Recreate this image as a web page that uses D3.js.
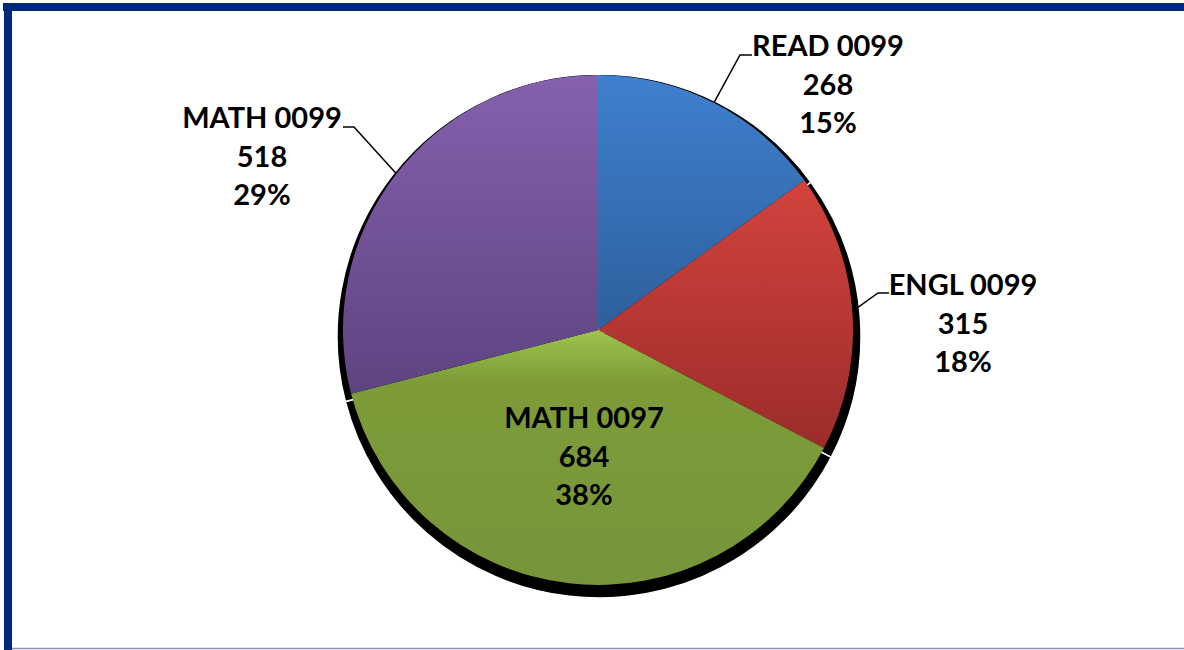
<!DOCTYPE html>
<html>
<head>
<meta charset="utf-8">
<script src="https://cdn.jsdelivr.net/npm/d3@7"></script>
<style>
  html, body { margin: 0; padding: 0; background: #fff; }
  svg { display: block; }
  .label { font-family: Lato, "Open Sans", sans-serif; font-weight: 700; fill: #000; }
</style>
</head>
<body>
<svg id="chart"></svg>
<script>
// data
const courses = ['READ 0099', 'ENGL 0099', 'MATH 0097', 'MATH 0099'];
const counts = [268, 315, 684, 518];

// slice colours (light end, dark end of each gradient)
const lightColors = ['#3F80CF', '#D3433D', '#9EC54F', '#8561AE'];
const darkColors = ['#2D5F9C', '#9B2C2A', '#76953A', '#5D4480'];

const width = 1184;
const height = 650;
const cx = 598;
const cy = 330;
const radius = 255;
const fontSize = 29;
const lineGap = 38.5;

// label layout: centre x, first line centre y, elbow of the leader line
const labelLayout = [
  { x: 828, y: 46, elbow: [[740, 55], [752, 55]] },
  { x: 963, y: 285, elbow: [[878, 293], [889, 293]] },
  { x: 584, y: 418, elbow: null },
  { x: 262, y: 118, elbow: [[354, 127], [343, 127]] },
];

const total = d3.sum(counts);
const data = courses.map((name, i) => ({ name, count: counts[i], index: i }));

const svg = d3.select('#chart')
  .attr('width', width)
  .attr('height', height);

// frame
svg.append('rect')
  .attr('x', 3).attr('y', 3)
  .attr('width', width - 3).attr('height', 8)
  .attr('fill', '#002A78');
svg.append('rect')
  .attr('x', 4).attr('y', 3)
  .attr('width', 8).attr('height', height - 3)
  .attr('fill', '#002A78');
svg.append('line')
  .attr('x1', 12).attr('x2', width)
  .attr('y1', 648.5).attr('y2', 648.5)
  .attr('stroke', '#8890C0')
  .attr('stroke-width', 1.5);

const pie = d3.pie().sort(null).value((d) => d.count)(data);
const arc = d3.arc().innerRadius(0).outerRadius(radius);
const shadowArc = d3.arc().innerRadius(0).outerRadius(radius + 7);

const g = svg.append('g')
  .attr('transform', `translate(${cx}, ${cy})`);

// vertical gradient per slice, spread over the slice's own bounding box
// (coordinates are local to the translated group)
const defs = svg.append('defs');
pie.forEach((d) => {
  const probe = g.append('path').attr('d', arc(d));
  const box = probe.node().getBBox();
  probe.remove();

  const i = d.data.index;
  const grad = defs.append('linearGradient')
    .attr('id', `grad-${i}`)
    .attr('gradientUnits', 'userSpaceOnUse')
    .attr('x1', 0).attr('x2', 0)
    .attr('y1', box.y).attr('y2', box.y + box.height);
  grad.append('stop').attr('offset', 0).attr('stop-color', lightColors[i]);
  if (i === 2) {
    grad.append('stop').attr('offset', 0.2).attr('stop-color', '#7D9C38');
  }
  grad.append('stop').attr('offset', 1).attr('stop-color', darkColors[i]);
});

// shadows
g.selectAll('path.shadow')
  .data(pie)
  .enter()
  .append('path')
  .attr('class', 'shadow')
  .attr('d', shadowArc)
  .attr('transform', 'translate(1, 6)')
  .attr('fill', '#000')
  .attr('stroke', '#fff')
  .attr('stroke-width', 1.5);

// slices
g.selectAll('path.slice')
  .data(pie)
  .enter()
  .append('path')
  .attr('class', 'slice')
  .attr('d', arc)
  .attr('fill', (d) => `url(#grad-${d.data.index})`);

// leader lines: from the arc at the slice mid angle to the elbow
pie.forEach((d) => {
  const layout = labelLayout[d.data.index];
  if (!layout.elbow) return;
  const mid = (d.startAngle + d.endAngle) / 2;
  const start = [cx + radius * Math.sin(mid), cy - radius * Math.cos(mid)];
  svg.append('polyline')
    .attr('points', [start, ...layout.elbow].map((p) => p.join(',')).join(' '))
    .attr('fill', 'none')
    .attr('stroke', '#000')
    .attr('stroke-width', 1.5);
});

// labels
pie.forEach((d) => {
  const layout = labelLayout[d.data.index];
  const lines = [
    d.data.name,
    String(d.data.count),
    `${Math.round(d.data.count / total * 100)}%`,
  ];
  svg.append('text')
    .attr('class', 'label')
    .attr('text-anchor', 'middle')
    .attr('font-size', fontSize)
    .selectAll('tspan')
    .data(lines)
    .enter()
    .append('tspan')
    .attr('x', layout.x)
    .attr('y', (t, k) => layout.y + k * lineGap + fontSize * 0.36)
    .text((t) => t);
});
</script>
</body>
</html>
